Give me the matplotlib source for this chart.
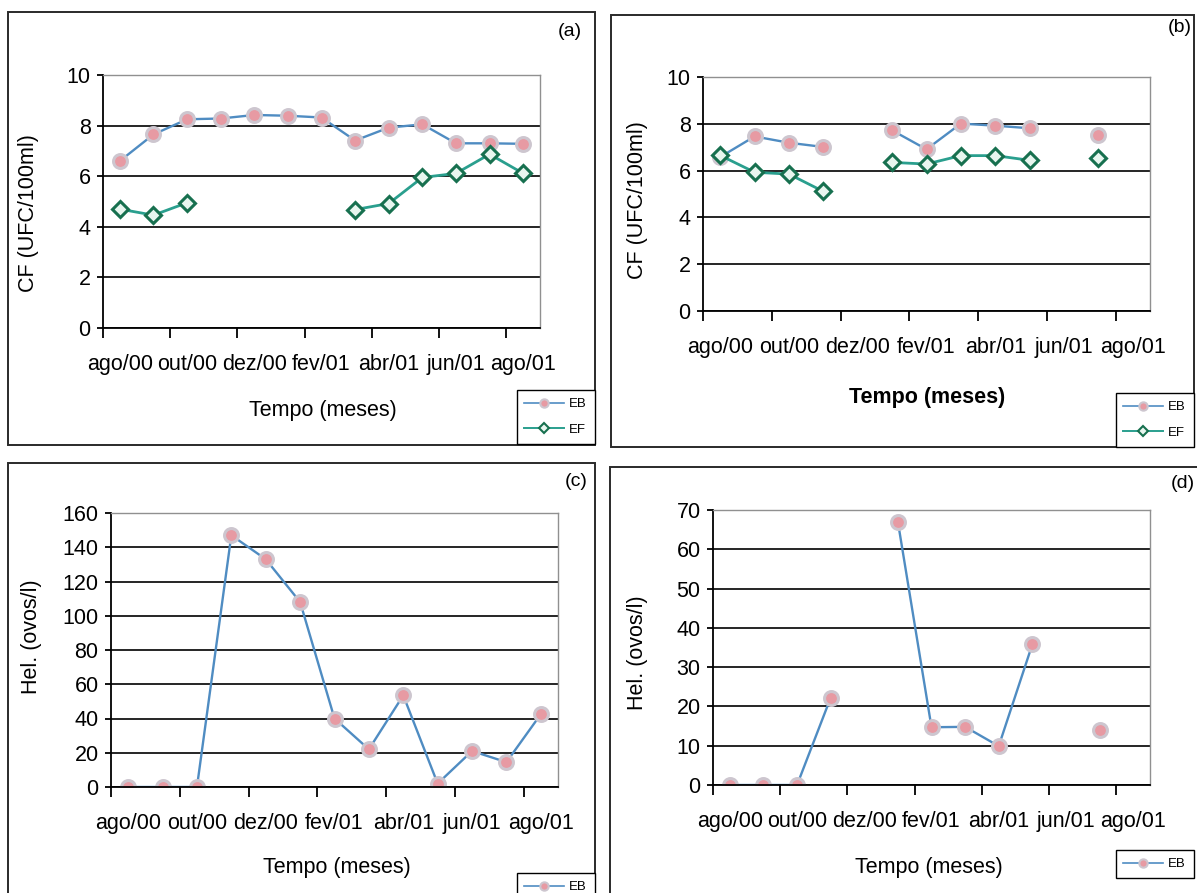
import numpy as np
import matplotlib.pyplot as plt
from matplotlib.patches import Rectangle
from matplotlib.lines import Line2D

plt.rcParams['font.family'] = ['Liberation Sans', 'DejaVu Sans']

W, H = 1197, 893

# months from ago/00 to ago/01
meses = ['ago/00', 'set/00', 'out/00', 'nov/00', 'dez/00', 'jan/01', 'fev/01',
         'mar/01', 'abr/01', 'mai/01', 'jun/01', 'jul/01', 'ago/01']
nan = np.nan

# (a) coliformes fecais, EB and EF
cf_a_eb = [6.6, 7.65, 8.25, 8.28, 8.42, 8.39, 8.32, 7.41, 7.92, 8.05, 7.3, 7.3, 7.28]
cf_a_ef = [4.7, 4.46, 4.95, nan, nan, nan, nan, 4.68, 4.92, 5.95, 6.11, 6.87, 6.11]

# (b) coliformes fecais, EB and EF
cf_b_eb = [6.58, 7.46, 7.19, 7.01, nan, 7.72, 6.91, 8.01, 7.92, 7.81, nan, 7.54, nan]
cf_b_ef = [6.65, 5.93, 5.85, 5.11, nan, 6.35, 6.28, 6.64, 6.64, 6.44, nan, 6.54, nan]

# (c) and (d) helmintos, EB only
hel_c_eb = [0, 0, 0, 147, 133, 108, 40, 22, 53.5, 2, 21, 14.5, 42.5]
hel_d_eb = [0, 0, 0, 22.2, nan, 67, 14.7, 14.8, 9.9, 35.8, nan, 14, nan]

EB_LINE = '#4f8cc2'
EF_LINE = '#2a9f8e'


def fbox(l, t, r, b):
    return [l / W, 1 - b / H, (r - l) / W, (b - t) / H]


def plot_eb(ax, y):
    return ax.plot(range(len(y)), y, color=EB_LINE, lw=1.7, marker='o', ms=10,
                   mfc='#e79aa3', mec='#cdc6cf', mew=2.2, label='EB')[0]


def plot_ef(ax, y):
    return ax.plot(range(len(y)), y, color=EF_LINE, lw=2.0, marker='D', ms=8.5,
                   mfc='#e8f6ef', mec='#17704f', mew=2.2, label='EF')[0]


def style_axes(ax, ymax, ystep, label_bold=False):
    n = len(meses)
    ax.set_xlim(-0.5, n - 0.5)
    ax.set_ylim(0, ymax)
    ax.set_yticks(np.arange(0, ymax + 0.1, ystep))
    ax.yaxis.grid(True, color='black', lw=1.2)
    ax.set_axisbelow(True)
    # tick marks between categories, labels centred on every other month
    ax.set_xticks(np.arange(-0.5, n - 1, 2))
    ax.set_xticklabels([])
    ax.set_xticks(np.arange(0, n, 2), minor=True)
    ax.set_xticklabels(meses[::2], minor=True,
                       fontweight='bold' if label_bold else 'normal')
    ax.tick_params(axis='x', which='major', length=7, width=1.3, direction='out')
    ax.tick_params(axis='x', which='minor', length=0, pad=19, labelsize=15.5)
    ax.tick_params(axis='y', length=4, width=1.3, pad=5, labelsize=15.5)
    for s in ('left', 'bottom'):
        ax.spines[s].set_color('black')
        ax.spines[s].set_linewidth(1.3)
    for s in ('top', 'right'):
        ax.spines[s].set_color('#909090')
        ax.spines[s].set_linewidth(1.0)


fig = plt.figure(figsize=(W / 100, H / 100), dpi=100)

# outer frames of the four charts
for l, t, r, b in [(8, 12, 595, 445), (611, 15, 1194, 447),
                   (8, 463, 595, 900), (610, 467, 1205, 900)]:
    fig.patches.append(Rectangle((l / W, 1 - b / H), (r - l) / W, (b - t) / H,
                                 transform=fig.transFigure, fill=False,
                                 edgecolor='#2a2a2a', lw=1.4))

ax_a = fig.add_axes(fbox(103, 75, 540, 328))
ax_b = fig.add_axes(fbox(703, 77, 1150, 311))
ax_c = fig.add_axes(fbox(111, 513, 558, 787))
ax_d = fig.add_axes(fbox(713, 510, 1150, 785))

plot_eb(ax_a, cf_a_eb)
plot_ef(ax_a, cf_a_ef)
style_axes(ax_a, 10, 2)

plot_eb(ax_b, cf_b_eb)
plot_ef(ax_b, cf_b_ef)
style_axes(ax_b, 10, 2)

plot_eb(ax_c, hel_c_eb)
style_axes(ax_c, 160, 20)

plot_eb(ax_d, hel_d_eb)
style_axes(ax_d, 70, 10)

# axis titles and panel letters
texts = [
    (29, 213, 'CF (UFC/100ml)', 90, 'normal'),
    (638, 200, 'CF (UFC/100ml)', 90, 'normal'),
    (32, 637, 'Hel. (ovos/l)', 90, 'normal'),
    (638, 653, 'Hel. (ovos/l)', 90, 'normal'),
    (323, 410, 'Tempo (meses)', 0, 'normal'),
    (927, 397, 'Tempo (meses)', 0, 'bold'),
    (337, 867, 'Tempo (meses)', 0, 'normal'),
    (929, 868, 'Tempo (meses)', 0, 'normal'),
]
for x, y, s, rot, wt in texts:
    fig.text(x / W, 1 - y / H, s, rotation=rot, ha='center', va='center',
             fontsize=15.5, fontweight=wt)

for x, y, s in [(570, 32, '(a)'), (1180, 28, '(b)'), (576, 482, '(c)'), (1183, 483, '(d)')]:
    fig.text(x / W, 1 - y / H, s, ha='center', va='center', fontsize=14)


def legend_handles(with_ef):
    hs = [Line2D([], [], color=EB_LINE, lw=1.2, marker='o', ms=6,
                 mfc='#e79aa3', mec='#cdc6cf', mew=1.5, label='EB')]
    if with_ef:
        hs.append(Line2D([], [], color=EF_LINE, lw=1.4, marker='D', ms=5,
                         mfc='#e8f6ef', mec='#17704f', mew=1.5, label='EF'))
    return hs


# legend boxes, anchored by their top-right corner
for (x, y), ef in [((595, 390), True), ((1194, 393), True),
                   ((595, 873), False), ((1194, 850), False)]:
    leg = fig.legend(handles=legend_handles(ef), loc='upper right',
                     bbox_to_anchor=(x / W, 1 - y / H), borderaxespad=0,
                     fontsize=9.5, handlelength=3.0, handletextpad=0.4,
                     labelspacing=1.0, borderpad=0.6, fancybox=False,
                     framealpha=1, edgecolor='black')
    leg.get_frame().set_linewidth(1.0)

fig.savefig('out.png', dpi=100)
